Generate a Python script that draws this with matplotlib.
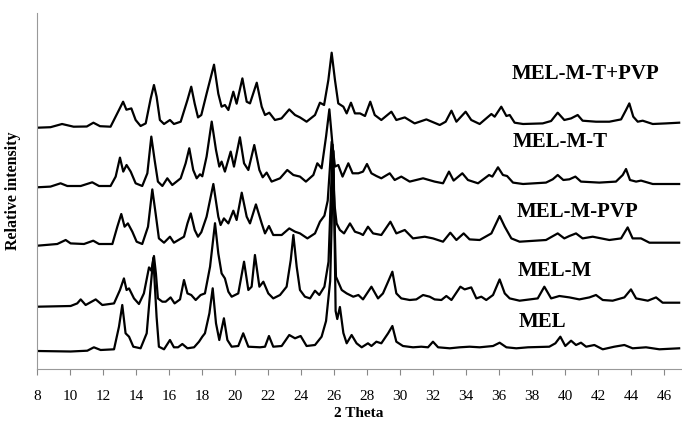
# Difractogramas XRD apilados
import numpy as np
import matplotlib
matplotlib.use('Agg')
import matplotlib.pyplot as plt

# Datos: (2 theta, intensidad relativa sobre la linea base)
mel = [(8.0, 0), (10.02, -0.5), (11.03, 0.3), (11.43, 3.7), (11.84, 1), (12.65, 1.7),
       (12.95, 24.3), (13.15, 46), (13.35, 17.7), (13.56, 14.3), (13.82, 4.3), (14.26, 2.7),
       (14.63, 17.7), (14.87, 64.3), (15.03, 93), (15.23, 34), (15.37, 4.3), (15.68, 1.7),
       (16.04, 11), (16.28, 3.7), (16.53, 3.7), (16.79, 7), (17.1, 2.7), (17.5, 3.7),
       (17.8, 9.3), (18.0, 14.3), (18.16, 17.7), (18.43, 37.7), (18.63, 62.7), (18.83, 27.7),
       (19.03, 11), (19.31, 32.7), (19.52, 11), (19.78, 4.3), (20.18, 5), (20.48, 17.7),
       (20.79, 4.3), (21.5, 3.7), (21.8, 4.3), (22.04, 15), (22.3, 4.3), (22.81, 5),
       (23.27, 16), (23.62, 12.7), (23.96, 15), (24.32, 5), (24.83, 6), (25.23, 14.3),
       (25.5, 30), (25.75, 70), (25.95, 200), (26.08, 40), (26.18, 32), (26.34, 44),
       (26.55, 18), (26.75, 7.7), (27.05, 16), (27.35, 7.7), (27.66, 3.7), (28.04, 7.7),
       (28.25, 5), (28.55, 9.3), (28.85, 7.7), (29.26, 17.7), (29.52, 25), (29.76, 9.3),
       (30.16, 5), (30.77, 3.7), (31.27, 4.3), (31.68, 3.7), (31.98, 9.3), (32.29, 3.7),
       (33.0, 2.7), (33.6, 3.7), (34.2, 4.3), (34.81, 3.7), (35.62, 5), (36.02, 8.3),
       (36.43, 3.7), (37.03, 2.7), (37.74, 3.7), (39.03, 4.3), (39.4, 7.7), (39.7, 14.3),
       (40.0, 5), (40.35, 10.3), (40.65, 6), (40.95, 8.3), (41.26, 4.3), (41.76, 6),
       (42.27, 1.7), (42.97, 4.3), (43.58, 6), (44.08, 2.7), (44.89, 3.7), (45.7, 1.7),
       (46.9, 2.7)]

mel_m = [(8.0, 0), (10.02, 0.7), (10.42, 3.3), (10.63, 7.3), (10.93, 1.7), (11.54, 7.3),
         (11.94, 1.7), (12.65, 3.3), (13.01, 16.7), (13.25, 28.3), (13.41, 16.7), (13.56, 18.3),
         (13.86, 8.3), (14.16, 2.7), (14.46, 13.3), (14.77, 39.3), (14.91, 36), (15.07, 50.7),
         (15.19, 33), (15.31, 8.3), (15.58, 5), (15.78, 5), (16.08, 9.3), (16.32, 3.3),
         (16.65, 7.3), (16.89, 26.7), (17.1, 13.3), (17.33, 11.7), (17.6, 6.7), (17.9, 11.7),
         (18.16, 13.3), (18.47, 40), (18.77, 83.5), (18.97, 53.3), (19.17, 33.3), (19.37, 28.3),
         (19.58, 15), (19.78, 10), (20.18, 13.3), (20.53, 45), (20.79, 16.7), (20.99, 20),
         (21.19, 51.7), (21.46, 20), (21.7, 25), (22.0, 13.3), (22.3, 8.3), (22.71, 11.7),
         (23.11, 20), (23.36, 46.7), (23.52, 71.7), (23.72, 40), (23.92, 16.7), (24.22, 10),
         (24.53, 8.3), (24.83, 16), (25.09, 11.7), (25.4, 20), (25.65, 45), (25.9, 162),
         (26.1, 30), (26.45, 16.7), (26.75, 13.3), (27.15, 10), (27.46, 11.7), (27.74, 7.3),
         (28.25, 20), (28.65, 8.3), (28.95, 13.3), (29.26, 25), (29.52, 35), (29.76, 13.3),
         (30.06, 8.3), (30.57, 6.7), (30.97, 7.3), (31.38, 11.7), (31.78, 10), (32.08, 7.3),
         (32.49, 6.7), (32.79, 10.7), (33.1, 6.7), (33.64, 20), (33.9, 17.3), (34.3, 19.3),
         (34.61, 8.3), (34.91, 10), (35.21, 6.7), (35.62, 11.7), (36.02, 27.3), (36.33, 13.3),
         (36.63, 8.3), (37.23, 6), (38.33, 8.3), (38.73, 20), (39.14, 8.3), (39.64, 10.7),
         (40.25, 9.3), (40.85, 7.3), (41.46, 9.3), (41.86, 11.7), (42.27, 6.7), (42.87, 6),
         (43.58, 9.3), (43.98, 17.3), (44.29, 8.3), (45.0, 6), (45.5, 9.3), (45.9, 4),
         (46.9, 4)]

mel_m_pvp = [(8.0, 0), (9.21, 1.7), (9.72, 5.7), (10.02, 2.3), (10.83, 1.7), (11.39, 5),
             (11.74, 1.7), (12.55, 1.7), (12.85, 19), (13.09, 31.7), (13.29, 19), (13.49, 22.3),
             (13.76, 14), (14.02, 4), (14.36, 1.7), (14.71, 19), (14.97, 56.3), (15.17, 32.3),
             (15.37, 7.3), (15.68, 3), (16.04, 9), (16.28, 3), (16.89, 9), (17.1, 22.3),
             (17.3, 32.3), (17.54, 15.7), (17.74, 9), (17.94, 13.5), (18.26, 29), (18.67, 61.7),
             (18.97, 29), (19.11, 20.7), (19.31, 27.3), (19.58, 22.3), (19.88, 35), (20.08, 25.7),
             (20.39, 53), (20.69, 29), (20.89, 22.3), (21.25, 41.3), (21.6, 22.3), (21.8, 12.3),
             (22.04, 19.7), (22.3, 10.7), (22.81, 10.7), (23.27, 17.3), (23.62, 14), (23.92, 12.3),
             (24.37, 7.3), (24.83, 12.3), (25.13, 24), (25.4, 30), (25.6, 45), (25.84, 104),
             (26.02, 40), (26.14, 22.3), (26.34, 15.7), (26.59, 12.3), (26.95, 22.3), (27.25, 14),
             (27.56, 12.3), (27.74, 10.7), (28.04, 19), (28.35, 12.3), (28.85, 10.7), (29.4, 24),
             (29.76, 12.3), (30.27, 15.7), (30.77, 7.3), (31.48, 9), (31.98, 7.3), (32.59, 4),
             (33.03, 13), (33.4, 5.7), (33.84, 12.3), (34.2, 6.3), (34.81, 5.7), (35.52, 12.3),
             (36.02, 29.7), (36.33, 19), (36.73, 7.3), (37.23, 4), (38.83, 5.7), (39.54, 12.3),
             (39.94, 7.3), (40.25, 9.7), (40.65, 12.3), (41.05, 7.3), (41.66, 9), (42.67, 5.7),
             (43.38, 7.3), (43.78, 18.3), (44.08, 7.3), (44.59, 7.3), (45.1, 3), (46.9, 3)]

mel_m_t = [(8.0, 0), (8.8, 0.7), (9.41, 4), (9.82, 1.3), (10.63, 1.3), (11.33, 5),
           (11.74, 1.3), (12.44, 1.3), (12.75, 10.7), (13.01, 29.7), (13.21, 15.7), (13.41, 22.3),
           (13.66, 15.7), (13.96, 4), (14.36, 1.3), (14.67, 14), (14.91, 50.7), (15.11, 27.3),
           (15.31, 5.7), (15.58, 1.3), (15.88, 9), (16.18, 2.3), (16.69, 9), (16.99, 24),
           (17.21, 39), (17.45, 17.3), (17.66, 9), (17.86, 13), (18.0, 11), (18.26, 30.7),
           (18.57, 65.7), (18.83, 37.3), (19.03, 20.7), (19.17, 25.7), (19.37, 15.7), (19.72, 35.7),
           (19.92, 20.7), (20.28, 50), (20.53, 24), (20.79, 17.3), (21.15, 42.3), (21.46, 17.3),
           (21.66, 10), (21.9, 14.7), (22.2, 5.7), (22.71, 9), (23.15, 17.3), (23.52, 12.3),
           (23.92, 10.7), (24.28, 5.7), (24.73, 12.3), (24.97, 24), (25.23, 19), (25.5, 50.7),
           (25.7, 78), (25.9, 40.7), (26.04, 20.7), (26.24, 22.3), (26.5, 10.7), (26.85, 24),
           (27.11, 14), (27.46, 14), (27.74, 15.7), (27.98, 23.3), (28.25, 14), (28.55, 11.3),
           (28.85, 9), (29.36, 14), (29.66, 7.3), (30.06, 10.7), (30.57, 5.7), (31.38, 9),
           (32.08, 5.7), (32.59, 4), (32.95, 15.7), (33.23, 6.7), (33.76, 14), (34.1, 7.3),
           (34.71, 4), (35.38, 12.3), (35.58, 10.7), (35.92, 20), (36.22, 12.3), (36.47, 11.3),
           (36.83, 4.7), (37.44, 3.3), (38.83, 4.7), (39.24, 8), (39.54, 12.3), (39.88, 7.3),
           (40.25, 8), (40.61, 10.7), (40.95, 5.7), (42.06, 4.7), (43.07, 5.7), (43.48, 12.3),
           (43.68, 18.3), (43.92, 7.3), (44.29, 5.7), (44.59, 6.7), (45.3, 3.3), (46.9, 3.3)]

mel_m_t_pvp = [(8.0, 0), (8.8, 0.5), (9.5, 3.7), (10.2, 1), (11.0, 1.2), (11.4, 5),
               (11.8, 1.5), (12.44, 1), (12.95, 17.7), (13.2, 26), (13.4, 18), (13.7, 19.3),
               (13.96, 7.7), (14.26, 1.7), (14.57, 4.3), (14.87, 29), (15.07, 42.7), (15.23, 31),
               (15.43, 7.7), (15.68, 3.7), (16.04, 7.7), (16.28, 3.7), (16.69, 6), (17.1, 27.7),
               (17.33, 41), (17.54, 24), (17.74, 10.3), (17.94, 12.7), (18.26, 34), (18.71, 63),
               (18.97, 34), (19.17, 21), (19.37, 22.7), (19.58, 17.7), (19.88, 36), (20.08, 24),
               (20.43, 49.3), (20.69, 26), (20.89, 24.3), (21.3, 45), (21.6, 21), (21.8, 12.7),
               (22.06, 15), (22.4, 7.7), (22.8, 9.3), (23.27, 18.3), (23.62, 12.7), (23.92, 10.3),
               (24.32, 6), (24.83, 12.7), (25.13, 25), (25.38, 22.7), (25.64, 47.7), (25.84, 75),
               (26.04, 47.7), (26.24, 24.3), (26.55, 21), (26.75, 14.3), (27.01, 25), (27.25, 14.3),
               (27.56, 14.3), (27.86, 11.7), (28.18, 26), (28.45, 12.7), (28.85, 7.7), (29.46, 16),
               (29.76, 7.7), (30.27, 10.3), (30.87, 4.3), (31.58, 8.3), (32.39, 2.7), (32.75, 6),
               (33.1, 17), (33.4, 6), (33.96, 16), (34.3, 7.7), (34.81, 3.7), (35.52, 13.7),
               (35.72, 11), (36.12, 21), (36.43, 11.7), (36.63, 12.7), (36.93, 5), (37.44, 3.7),
               (38.63, 4.3), (39.14, 6.7), (39.54, 15), (39.94, 7.7), (40.35, 9.3), (40.75, 12.7),
               (41.05, 7), (41.86, 6), (42.67, 6), (43.38, 8.3), (43.68, 17.7), (43.88, 24.3),
               (44.12, 11), (44.39, 6), (44.69, 7), (45.3, 3.7), (46.1, 4.3), (46.9, 5)]

muestras = ['MEL', 'MEL-M', 'MEL-M-PVP', 'MEL-M-T', 'MEL-M-T+PVP']
series = [mel, mel_m, mel_m_pvp, mel_m_t, mel_m_t_pvp]
desplazamientos = [18, 62.3, 123.3, 181.7, 241.3]
pos_etiquetas = [(37.19, 47), (37.13, 98), (37.07, 157), (36.83, 227), (36.77, 295)]
ticks_x = np.arange(8, 47, 2)

plt.rcParams['font.family'] = ['Liberation Serif', 'DejaVu Serif']

fig = plt.figure(figsize=(6.82, 4.23), dpi=100)
ax = fig.add_axes([37.3 / 682, 1 - 369 / 423, (680.8 - 37.3) / 682, 356 / 423])

for nombre, datos, off, (tx, ty) in zip(muestras, series, desplazamientos, pos_etiquetas):
    tt = np.array([p[0] for p in datos])
    ii = np.array([p[1] for p in datos])
    ax.plot(tt, ii + off, color='black', lw=1.6, solid_joinstyle='round')
    ax.text(tx, ty, nombre, fontsize=15, fontweight='bold', ha='left', va='center')

ax.set_xlim(8, 47)
ax.set_ylim(0, 356)
ax.set_xticks(ticks_x)
ax.set_yticks([])
ax.tick_params(axis='x', direction='out', length=4.3, width=0.8, color='#888888',
               pad=11, labelsize=11)
for lado in ['top', 'right']:
    ax.spines[lado].set_visible(False)
for lado in ['left', 'bottom']:
    ax.spines[lado].set_color('#999999')
    ax.spines[lado].set_linewidth(0.8)

ax.set_xlabel('2 Theta', fontsize=11, fontweight='bold', labelpad=3)
ax.set_ylabel('Relative intensity', fontsize=11.5, fontweight='bold')
ax.yaxis.set_label_coords(-0.026, 0.5)

plt.savefig('out.png', dpi=100)
